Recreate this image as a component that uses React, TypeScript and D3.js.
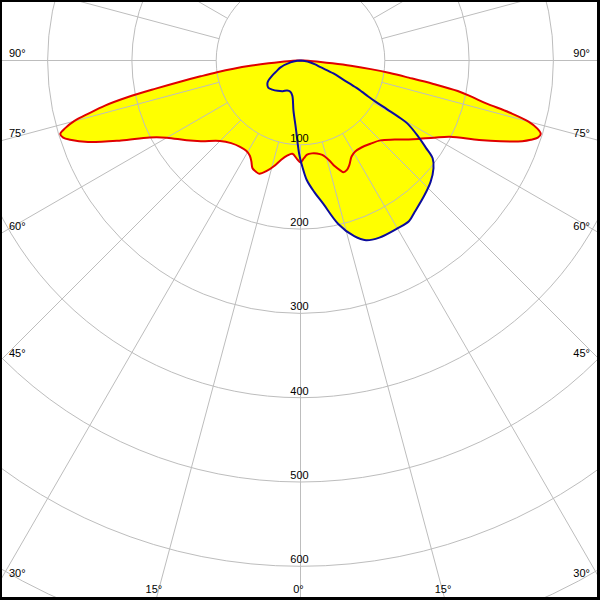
import React from 'react';
import * as d3 from 'd3';

const W = 600;
const H = 600;
const CX = 300.5;
const CY = 60.5;

// Intensity rings (cd/klm) and their labels
const ringValues = [100, 200, 300, 400, 500, 600, 700, 800];
const ringLabels = [100, 200, 300, 400, 500, 600];
// Side angle labels (left and right edge) and bottom angle labels
const sideAngleLabels = [90, 75, 60, 45, 30];
const bottomAngleLabels = [-15, 0, 15];

// Red curve (C0-C180 plane): [gamma, intensity]; left half mirrored to negative gamma
const redLeft: [number, number][] = [
  [0, 121], [2, 117], [5, 111], [8, 114], [11, 120], [14, 129], [17, 137], [20, 143],
  [22, 142], [24, 140], [26, 133], [28, 128], [31, 125], [35, 125], [40, 128], [45, 135],
  [51, 152], [55, 165], [60, 183], [63, 201], [66, 233], [69, 270], [71, 289], [72, 296],
  [73, 298], [74, 290], [75, 278], [76, 258], [77, 238], [78, 210], [79, 175], [80, 145],
  [81, 120], [82, 100], [83, 80], [84, 58], [85, 38], [86, 24], [87, 15], [88, 9], [89, 4], [90, 0],
];
const redRight: [number, number][] = [
  [0, 121], [2, 116], [4, 112], [7, 111], [10, 112], [13, 115], [16, 123], [18, 132],
  [20, 139], [21, 142], [23, 141], [25, 137], [28, 129], [31, 126], [35, 126], [40, 129],
  [45, 134], [50, 146], [55, 163], [60, 183], [63, 199], [66, 232], [68, 256], [70, 280],
  [71, 289], [72, 296], [73, 298], [74, 292], [75, 280], [76, 256], [77, 226], [78, 208],
  [79, 190], [80, 160], [81, 130], [82, 107], [83, 84], [84, 60], [85, 38], [86, 24],
  [87, 15], [88, 9], [89, 4], [90, 0],
];

// Blue curve (C90-C270 plane): [gamma, intensity]
const blueLeft: [number, number][] = [
  [0, 118], [1, 109], [2, 98], [4, 80], [8, 60], [13, 43], [18, 39], [24, 39], [30, 42],
  [37, 45], [44, 48], [50, 50], [55, 48], [58, 45], [62, 38], [66, 31], [71, 25], [79, 12],
  [85, 4], [90, 0],
];
const blueRight: [number, number][] = [
  [0, 118], [1, 126], [3, 142], [6, 157], [9, 172], [13, 199], [17, 218], [20, 227],
  [24, 230], [30, 230], [34, 230], [37, 225], [42, 218], [47, 211], [51, 203], [53.5, 195],
  [55.2, 181], [57.3, 165], [59.5, 147], [60, 137], [60.6, 118], [61.2, 102], [62, 91],
  [63, 82], [64, 74], [66, 55], [68.5, 42], [71.5, 25], [75, 18], [79, 12], [84, 5], [90, 0],
];

const rScale = d3.scaleLinear().domain([0, 100]).range([0, 84.3]);
const rad = (g: number) => (g * Math.PI) / 180;

function combine(left: [number, number][], right: [number, number][]) {
  const l = left.slice(1).reverse().map(([g, v]) => ({ g: -g, v }));
  const r = right.map(([g, v]) => ({ g, v }));
  return [...l, ...r];
}

const radial = d3
  .lineRadial<{ g: number; v: number }>()
  .angle((d) => Math.PI - rad(d.g))
  .radius((d) => rScale(d.v))
  .curve(d3.curveCatmullRom.alpha(0.5));

const redPts = combine(redLeft, redRight);
const bluePts = combine(blueLeft, blueRight);
const redPath = radial(redPts) as string;
const bluePath = radial(bluePts) as string;

const spokeAngles = d3.range(-165, 181, 15);

const FONT = "'Liberation Sans', Arial, sans-serif";
const GRID = '#bdbdbd';

export default function App() {
  const pt = (g: number, v: number) => [CX + rScale(v) * Math.sin(rad(g)), CY + rScale(v) * Math.cos(rad(g))];
  return (
    <svg
      width={W}
      height={H}
      viewBox={`0 0 ${W} ${H}`}
      style={{ position: 'absolute', left: 0, top: 0, background: '#fff' }}
    >
      <rect x={0} y={0} width={W} height={H} fill="#fff" />
      <g transform={`translate(${CX},${CY})`}>
        <path d={redPath + 'Z'} fill="#ffff00" stroke="none" />
        <path d={bluePath + 'Z'} fill="#ffff00" stroke="none" />
      </g>
      <g fill="none" stroke={GRID} strokeWidth={1}>
        {ringValues.map((v) => (
          <circle key={v} cx={CX} cy={CY} r={rScale(v)} />
        ))}
        {spokeAngles.map((a) => {
          const [x1, y1] = pt(a, 100);
          const [x2, y2] = pt(a, 1000);
          return <line key={a} x1={x1} y1={y1} x2={x2} y2={y2} />;
        })}
      </g>
      <g transform={`translate(${CX},${CY})`} fill="none" strokeWidth={2} strokeLinejoin="round">
        <path d={redPath} stroke="#e00000" />
        <path d={bluePath} stroke="#0c0c9c" />
      </g>
      <g fontFamily={FONT} fontSize={11} fill="#000">
        {ringLabels.map((v) => (
          <text key={v} x={299.5} y={CY + rScale(v) - 3} textAnchor="middle">
            {v}
          </text>
        ))}
        {sideAngleLabels.map((a) => {
          const yLine = a === 90 ? CY : CY + 300 / Math.tan(rad(a));
          return (
            <g key={a}>
              <text x={9} y={yLine - 3.5}>{`${a}°`}</text>
              <text x={590} y={yLine - 3.5} textAnchor="end">{`${a}°`}</text>
            </g>
          );
        })}
        {bottomAngleLabels.map((a) => {
          const x = CX + (H - CY) * Math.tan(rad(a)) - 2;
          return (
            <text key={a} x={x} y={593} textAnchor="middle">{`${Math.abs(a)}°`}</text>
          );
        })}
      </g>
      <g fill="#000">
        <rect x={0} y={0} width={W} height={2} />
        <rect x={0} y={0} width={2} height={H} />
        <rect x={597} y={0} width={3} height={H} />
        <rect x={0} y={597} width={W} height={3} />
      </g>
    </svg>
  );
}
